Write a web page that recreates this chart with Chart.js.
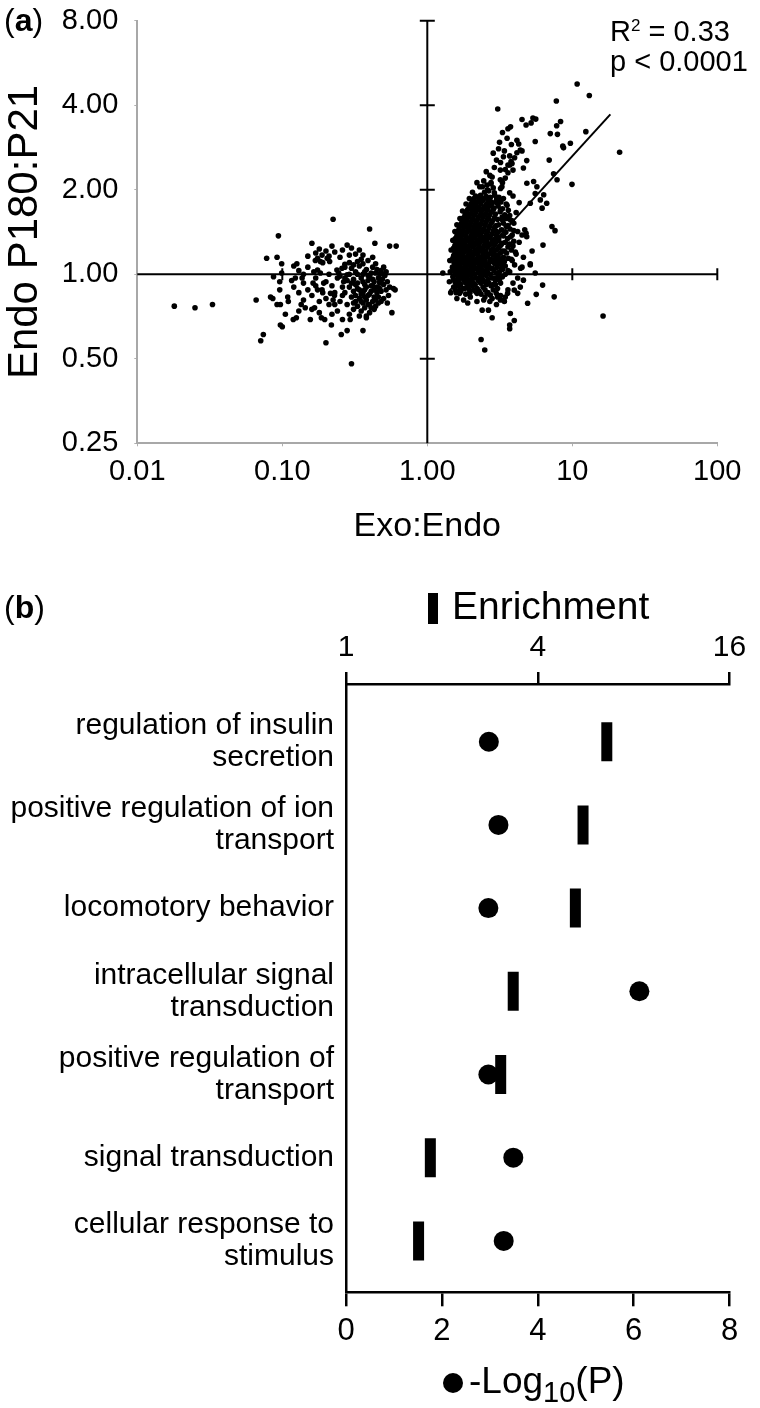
<!DOCTYPE html>
<html><head><meta charset="utf-8">
<script src="https://cdn.jsdelivr.net/npm/chart.js@4.4.1/dist/chart.umd.min.js"></script>
<style>
html,body{margin:0;padding:0;background:#fff;}
body{width:760px;height:1408px;position:relative;overflow:hidden;font-family:'Liberation Sans',Arial,sans-serif;color:#000;}
canvas{position:absolute;left:0;}
.t{position:absolute;white-space:nowrap;line-height:1;}
</style></head><body>
<canvas id="ca" width="760" height="560" style="top:0"></canvas>
<canvas id="cb" width="760" height="848" style="top:560px"></canvas>
<div class="t" style="left:4px;top:4px;font-size:32px">(<b>a</b>)</div>
<div class="t" style="left:610px;top:17px;font-size:29px">R<span style="font-size:17px;position:relative;top:-10px">2</span> = 0.33</div>
<div class="t" style="left:610px;top:47px;font-size:29px">p &lt; 0.0001</div>
<div class="t" style="left:4px;top:591px;font-size:32px">(<b>b</b>)</div>
<div style="position:absolute;left:428px;top:593px;width:10px;height:31px;background:#000"></div>
<div class="t" style="left:452px;top:586px;font-size:39px">Enrichment</div>
<div style="position:absolute;left:443px;top:1373px;width:20px;height:20px;border-radius:50%;background:#000"></div>
<div class="t" style="left:469px;top:1362px;font-size:37px">-Log<span style="font-size:29px;position:relative;top:9px">10</span>(P)</div>
<script>
const FF = "'Liberation Sans', Arial, sans-serif";

// ---------- panel (a) ----------
const xTickVals = [0.01, 0.1, 1, 10, 100];
const xTickLabels = ['0.01', '0.10', '1.00', '10', '100'];
const yTickVals = [0.25, 0.5, 1, 2, 4, 8];
const yTickLabels = ['0.25', '0.50', '1.00', '2.00', '4.00', '8.00'];
const crossXTicks = [0.1, 10, 100];
const crossYTicks = [0.5, 2, 4, 8];

const leftCluster = [
[0.018,0.77],[0.025,0.76],[0.033,0.78],[0.066,0.81],[0.074,0.61],[0.071,0.58],
[0.078,1.14],[0.092,1.15],[0.094,1.37],[0.099,1.09],[0.087,0.98],[0.099,1.01],[0.096,0.94],
[0.083,0.83],[0.086,0.82],[0.096,0.88],[0.092,0.78],[0.097,0.78],[0.109,0.83],[0.105,0.72],
[0.097,0.66],[0.100,0.65],[0.119,0.69],[0.125,0.70],[0.116,0.95],[0.123,0.97],[0.137,0.97],
[0.126,1.09],[0.150,1.16],[0.160,1.29],[0.224,1.57],[0.40,1.45],[0.435,1.29],[0.55,1.26],[0.61,1.26],
[0.135,0.78],[0.144,0.76],[0.156,0.69],[0.167,0.76],[0.186,0.70],[0.196,0.69],[0.200,0.57],
[0.218,0.66],[0.255,0.61],[0.28,0.63],[0.294,0.69],[0.30,0.48],[0.36,0.63],[0.38,0.71],
[0.57,0.73],[0.60,0.88],[0.50,1.00],[0.47,0.94],[0.585,0.89],
[0.169,1.12],[0.175,1.14],[0.183,1.11],[0.188,1.17],[0.204,1.14],[0.212,1.11],[0.165,1.02],
[0.175,1.035],[0.183,1.01],[0.163,0.93],[0.175,0.88],[0.188,0.88],[0.193,0.93],[0.200,0.82],
[0.215,0.855],[0.229,0.84],[0.224,0.81],[0.238,1.035],[0.245,1.01],[0.25,0.985],[0.258,1.05],
[0.27,1.085],[0.28,0.995],[0.265,0.94],
[0.30,1.05],[0.32,1.02],[0.34,1.07],[0.36,1.00],[0.38,1.04],[0.40,0.98],[0.42,1.06],[0.44,1.01],[0.46,0.97],[0.48,1.03],
[0.31,0.96],[0.33,0.93],[0.35,0.97],[0.37,0.92],[0.39,0.95],[0.41,0.91],[0.43,0.94],[0.45,0.90],[0.47,0.93],[0.50,0.92],
[0.29,0.90],[0.31,0.87],[0.33,0.89],[0.35,0.85],[0.37,0.88],[0.39,0.84],[0.41,0.87],[0.43,0.83],[0.45,0.86],[0.52,0.88],
[0.30,0.83],[0.32,0.80],[0.34,0.82],[0.36,0.79],[0.38,0.81],[0.40,0.78],[0.42,0.80],[0.44,0.77],[0.48,0.80],[0.54,0.84],
[0.28,0.78],[0.31,0.75],[0.33,0.77],[0.35,0.74],[0.37,0.76],[0.40,0.73],[0.43,0.75],[0.46,0.79],[0.50,0.82],[0.27,0.86],
[0.26,0.90],[0.27,0.97],[0.29,1.00],[0.31,1.08],[0.33,1.11],[0.36,1.09],[0.39,1.12],[0.41,1.01],[0.44,1.09],[0.47,1.00],
[0.49,0.96],[0.51,0.99],[0.53,0.94],[0.55,0.90],[0.36,0.94],[0.38,0.90],[0.34,0.88],[0.32,0.92],[0.40,0.85],[0.42,0.96],
[0.37,0.83],[0.35,0.80],[0.39,0.78],[0.46,0.83],[0.48,0.87],[0.30,0.93],[0.28,0.95],[0.26,0.84],[0.25,0.80],[0.29,0.72],
[0.34,0.71],[0.38,0.70],[0.33,1.00],[0.37,1.02],[0.45,1.04],[0.50,1.06],[0.52,1.02],[0.35,1.13],[0.29,1.10],[0.27,1.06],
[0.41,0.76],[0.44,0.81],[0.36,0.86],[0.39,0.99],[0.43,0.88],[0.31,0.79],[0.47,0.89],[0.53,0.79],[0.32,0.84],[0.42,0.91],
[0.12,1.07],[0.13,1.03],[0.14,1.00],[0.15,1.06],[0.17,1.19],[0.18,1.23],[0.20,1.21],[0.21,1.16],[0.22,1.26],[0.19,1.10],
[0.23,1.20],[0.25,1.15],[0.26,1.22],[0.28,1.27],[0.30,1.24],[0.32,1.18],[0.34,1.22],[0.29,1.17],[0.36,1.17],[0.42,1.15],
[0.12,0.90],[0.13,0.86],[0.14,0.93],[0.15,0.88],[0.16,0.84],[0.17,0.91],[0.18,0.80],[0.19,0.86],[0.20,0.94],[0.21,0.78],
[0.14,0.81],[0.16,0.75],[0.18,0.73],[0.22,0.72],[0.24,0.74],[0.23,0.86],[0.22,0.91],[0.24,0.97],[0.21,1.00],[0.17,0.97],
[0.26,0.69],[0.23,0.78],[0.13,0.74],[0.11,0.80]
];

const rightBlob = [
[1.58,0.86],[1.70,0.87],[1.84,0.85],[1.97,0.86],[2.15,0.87],[2.35,0.85],[2.62,0.86],
[1.52,0.90],[1.63,0.91],[1.76,0.89],[1.90,0.90],[2.04,0.91],[2.21,0.89],[2.42,0.90],[2.75,0.91],[3.05,0.89],
[1.55,0.94],[1.66,0.93],[1.79,0.95],[1.93,0.94],[2.08,0.93],[2.26,0.95],[2.47,0.94],[2.66,0.93],[2.95,0.95],
[1.50,0.98],[1.61,0.99],[1.73,0.97],[1.86,0.98],[2.00,0.99],[2.16,0.97],[2.33,0.98],[2.55,0.99],[2.80,0.97],[3.30,0.98],
[1.54,1.02],[1.65,1.01],[1.78,1.03],[1.91,1.02],[2.06,1.01],[2.23,1.03],[2.41,1.02],[2.62,1.01],[2.88,1.03],[3.15,1.02],
[1.49,1.06],[1.60,1.07],[1.72,1.05],[1.85,1.06],[2.00,1.07],[2.15,1.05],[2.32,1.06],[2.52,1.07],[2.73,1.05],[3.02,1.06],[3.45,1.07],
[1.53,1.10],[1.64,1.09],[1.76,1.11],[1.89,1.10],[2.04,1.09],[2.20,1.11],[2.38,1.10],[2.58,1.09],[2.80,1.11],[3.10,1.10],
[1.50,1.14],[1.61,1.15],[1.73,1.13],[1.86,1.14],[2.01,1.15],[2.17,1.13],[2.34,1.14],[2.53,1.15],[2.74,1.13],[2.98,1.14],[3.35,1.15],
[1.55,1.19],[1.66,1.18],[1.79,1.20],[1.93,1.19],[2.09,1.18],[2.26,1.20],[2.44,1.19],[2.65,1.18],[2.88,1.20],[3.20,1.19],
[1.52,1.24],[1.63,1.25],[1.76,1.23],[1.90,1.24],[2.05,1.25],[2.22,1.23],[2.40,1.24],[2.60,1.25],[2.85,1.23],[3.10,1.24],[3.60,1.25],
[1.58,1.29],[1.70,1.28],[1.83,1.30],[1.98,1.29],[2.14,1.28],[2.31,1.30],[2.50,1.29],[2.72,1.28],[2.96,1.30],[3.28,1.29],
[1.56,1.34],[1.68,1.35],[1.81,1.33],[1.95,1.34],[2.11,1.35],[2.28,1.33],[2.47,1.34],[2.68,1.35],[2.90,1.33],
[1.62,1.40],[1.74,1.39],[1.88,1.41],[2.03,1.40],[2.19,1.39],[2.37,1.41],[2.57,1.40],[2.80,1.39],[3.08,1.41],
[1.66,1.46],[1.79,1.47],[1.93,1.45],[2.09,1.46],[2.26,1.47],[2.45,1.45],[2.66,1.46],[2.92,1.47],
[1.72,1.52],[1.85,1.51],[2.00,1.53],[2.16,1.52],[2.34,1.51],[2.54,1.53],[2.76,1.52],
[1.78,1.59],[1.92,1.60],[2.07,1.58],[2.24,1.59],[2.43,1.60],[2.64,1.58],[2.90,1.59],
[1.86,1.66],[2.01,1.65],[2.17,1.67],[2.35,1.66],[2.55,1.65],[2.78,1.67],
[1.95,1.74],[2.11,1.75],[2.28,1.73],[2.47,1.74],[2.68,1.75],
[2.05,1.82],[2.22,1.81],[2.40,1.83],[2.62,1.82],
[2.15,1.90],[2.33,1.91],[2.55,1.89]
];

const rightBlobFill = [
[1.56,0.88],[1.68,0.88],[1.81,0.89],[1.95,0.88],[2.10,0.88],[2.28,0.87],[2.50,0.88],[2.85,0.88],
[1.58,0.92],[1.70,0.92],[1.84,0.93],[1.98,0.92],[2.14,0.92],[2.33,0.93],[2.56,0.92],[2.85,0.92],
[1.52,0.96],[1.64,0.96],[1.76,0.97],[1.90,0.96],[2.04,0.96],[2.21,0.97],[2.40,0.96],[2.62,0.96],[2.90,0.97],[3.15,0.96],
[1.57,1.00],[1.69,1.00],[1.82,1.01],[1.96,1.00],[2.12,1.00],[2.29,1.01],[2.48,1.00],[2.72,1.00],[3.00,1.01],
[1.51,1.04],[1.62,1.04],[1.74,1.05],[1.88,1.04],[2.03,1.04],[2.19,1.05],[2.37,1.04],[2.57,1.04],[2.80,1.05],[3.30,1.04],
[1.56,1.08],[1.68,1.08],[1.80,1.09],[1.94,1.08],[2.09,1.08],[2.25,1.09],[2.44,1.08],[2.65,1.08],[2.92,1.09],[3.25,1.08],
[1.58,1.12],[1.70,1.12],[1.82,1.13],[1.96,1.12],[2.12,1.12],[2.29,1.13],[2.48,1.12],[2.70,1.12],[2.95,1.13],[3.20,1.12],
[1.52,1.165],[1.64,1.165],[1.76,1.17],[1.90,1.16],[2.05,1.165],[2.22,1.17],[2.40,1.16],[2.61,1.165],[2.84,1.17],[3.08,1.16],
[1.58,1.215],[1.70,1.215],[1.84,1.22],[1.98,1.21],[2.14,1.215],[2.32,1.22],[2.52,1.21],[2.75,1.215],[3.00,1.22],[3.40,1.21],
[1.55,1.265],[1.67,1.265],[1.80,1.27],[1.94,1.26],[2.10,1.265],[2.27,1.27],[2.46,1.26],[2.66,1.265],[2.90,1.27],[3.15,1.26],
[1.62,1.315],[1.75,1.315],[1.89,1.32],[2.04,1.31],[2.20,1.315],[2.38,1.32],[2.58,1.31],[2.82,1.315],[3.10,1.32],
[1.60,1.37],[1.72,1.37],[1.85,1.375],[2.00,1.365],[2.16,1.37],[2.33,1.375],[2.52,1.365],[2.74,1.37],[3.00,1.375],
[1.64,1.43],[1.77,1.43],[1.91,1.435],[2.06,1.425],[2.22,1.43],[2.41,1.435],[2.62,1.425],[2.86,1.43],
[1.70,1.49],[1.83,1.49],[1.97,1.495],[2.12,1.485],[2.30,1.49],[2.50,1.495],[2.70,1.485],[2.98,1.49],
[1.75,1.555],[1.88,1.555],[2.03,1.56],[2.20,1.55],[2.38,1.555],[2.58,1.56],[2.82,1.55],
[1.82,1.625],[1.96,1.625],[2.12,1.63],[2.30,1.62],[2.50,1.625],[2.70,1.63],
[1.90,1.70],[2.05,1.70],[2.22,1.705],[2.40,1.695],[2.60,1.70],[2.85,1.705],
[2.00,1.78],[2.16,1.78],[2.34,1.785],[2.55,1.775],[2.78,1.78],
[2.10,1.86],[2.27,1.86],[2.47,1.865],[2.70,1.855]
];

const rightBlobEast = [
[2.95,0.92],[3.20,0.93],[3.10,0.99],[3.45,1.00],[3.25,1.05],[3.60,1.03],[3.15,1.13],[3.40,1.11],[3.62,1.14],[3.85,1.12],
[3.05,1.17],[3.28,1.21],[3.52,1.19],[3.80,1.22],[4.05,1.20],[3.22,1.27],[3.45,1.30],[3.70,1.28],[3.95,1.31],
[3.12,1.35],[3.35,1.37],[3.58,1.34],[3.85,1.38],[3.00,1.42],[3.25,1.44],[3.48,1.41],[3.72,1.45],[3.95,1.43],
[3.10,1.50],[3.35,1.52],[3.60,1.49],[3.85,1.55],[3.05,1.57],[3.28,1.60],[3.52,1.58],[3.75,1.56],
[2.95,1.64],[3.18,1.67],[3.42,1.63],[3.62,1.69],[2.88,1.72],[3.08,1.75],[3.30,1.71],[3.50,1.78],
[2.80,1.80],[3.00,1.84],[3.22,1.81],[2.72,1.88],[2.92,1.91],[3.12,1.88],[2.48,1.96],[2.65,1.98],
[2.85,2.03],[2.40,2.05],[2.58,2.08],[2.75,2.12]
];

const rightScatter = [
[3.6,0.88],[3.9,0.93],[4.2,0.97],[3.7,1.02],[4.0,1.08],[4.4,1.05],[3.8,1.13],[4.1,1.18],[4.6,1.15],[3.9,1.26],
[4.3,1.30],[3.75,1.36],[4.2,1.42],[4.5,1.38],[3.5,1.48],[3.95,1.52],[4.7,1.44],[3.3,1.56],[3.7,1.62],[4.1,1.66],
[3.2,1.70],[3.55,1.76],[3.0,1.80],[3.35,1.86],[2.9,1.95],[3.2,2.02],[2.6,2.00],[3.7,1.95],[3.9,1.90],[4.3,1.80],
[3.4,0.80],[3.0,0.78],[2.7,0.80],[2.2,0.80],[1.9,0.79],[2.5,0.83],[3.2,0.84],[1.6,0.82],[1.45,0.86],[1.42,0.94],
[1.44,1.02],[1.43,1.12],[1.46,1.22],[1.50,1.32],[1.55,1.42],[1.60,1.50],[1.68,1.58],[1.75,1.68],[1.85,1.78],[1.95,1.86],
[2.05,1.96],[2.30,2.05],[2.45,2.15],[2.20,2.12],[2.70,2.25],[2.55,2.32],[2.90,2.40],[3.00,2.55],[3.20,2.50],[3.35,2.62],
[2.75,2.10],[3.45,2.20],[3.60,2.30],[3.30,2.12],[2.85,2.70],[3.10,2.80],[3.40,2.75],[3.60,2.45],[3.90,2.35],[4.00,2.60],
[3.15,2.95],[3.55,3.05],[3.80,2.90],[3.30,3.20],[3.60,3.30],[3.75,3.35],
[10.8,4.76],[13.1,4.33],[7.76,4.14],[3.06,3.88],[4.5,3.56],[4.8,3.40],[5.2,3.46],[5.35,3.60],[5.6,3.57],[8.3,3.50],
[7.8,3.38],[7.05,3.17],[7.9,3.15],[12.4,3.22],[21.2,2.72],[8.6,2.86],[8.7,2.82],[9.7,2.93],[5.55,2.97],[4.15,3.00],
[4.27,2.91],[4.5,2.75],[4.15,2.71],[4.38,2.77],[4.85,2.54],[4.6,2.39],[3.7,2.64],[3.78,2.52],[3.7,2.45],[6.93,2.55],
[9.95,2.09],[7.85,2.17],[3.19,2.35],[3.45,2.36],[2.8,2.22],[3.19,2.17],[3.27,2.05],[5.55,1.94],[6.35,1.92],[5.13,1.79],
[6.02,1.84],[6.19,1.72],[7.24,1.48],[7.6,1.43],[6.28,1.27],[5.28,1.21],[5.13,1.09],[4.8,1.40],[4.85,1.36],[6.24,0.915],
[5.64,0.848],[4.92,0.788],[7.5,0.831],[16.3,0.71],[2.35,0.586],[2.49,0.537],[2.39,0.745],[2.64,0.745],[2.8,0.70],[3.74,0.725],
[3.98,0.684],[3.7,0.66],[3.7,0.64],[4.2,0.855],[3.19,0.81],[3.45,0.83],[2.99,0.855],[1.28,1.01],[1.78,0.81],[1.67,0.855],
[3.84,2.48],[4.86,2.11],[5.41,2.14],[5.7,2.05],[7.43,2.28],[6.66,1.79],
[4.5,1.06],[5.13,1.08],[5.55,1.01],[4.6,0.953],[4.38,0.90],[3.98,0.878],[3.58,0.855],[3.36,0.81],[3.05,0.83],[2.8,0.82],
[2.58,0.855],[1.98,0.83],[2.2,0.855],[2.45,0.81],[2.72,0.843]
];

const fitLine = [[1.425, 0.874], [18.3, 3.71]];

const crossPlugin = {
  id: 'cross',
  beforeDatasetsDraw(c) {
    const {ctx} = c; const x = c.scales.x, y = c.scales.y;
    const x1 = x.getPixelForValue(1), y1 = y.getPixelForValue(1);
    ctx.save();
    ctx.strokeStyle = '#000'; ctx.lineWidth = 2;
    ctx.beginPath();
    ctx.moveTo(x1, y.getPixelForValue(8)); ctx.lineTo(x1, y.getPixelForValue(0.25));
    ctx.moveTo(x.getPixelForValue(0.01), y1); ctx.lineTo(x.getPixelForValue(100), y1);
    crossYTicks.forEach(v => { const p = y.getPixelForValue(v); ctx.moveTo(x1 - 7.5, p); ctx.lineTo(x1 + 7.5, p); });
    crossXTicks.forEach(v => { const p = x.getPixelForValue(v); ctx.moveTo(p, y1 - 6); ctx.lineTo(p, y1 + 6); });
    ctx.stroke();
    ctx.restore();
  }
};

const zeroPad = s => { s.paddingTop = 0; s.paddingBottom = 0; s.paddingLeft = 0; s.paddingRight = 0; };

new Chart(document.getElementById('ca'), {
  type: 'scatter',
  data: { datasets: [
    { data: leftCluster.concat(rightBlob, rightBlobFill, rightBlobEast, rightScatter), pointRadius: 2.8, pointHoverRadius: 2.8,
      pointBackgroundColor: '#000', pointBorderWidth: 0 },
    { data: fitLine, showLine: true, borderColor: '#000', borderWidth: 2, pointRadius: 0, fill: false }
  ]},
  options: {
    responsive: false, animation: false, devicePixelRatio: 1,
    layout: { padding: { left: 0, top: 20.7, right: 42.7, bottom: 0 } },
    plugins: { legend: { display: false }, tooltip: { enabled: false } },
    scales: {
      x: {
        type: 'logarithmic', position: 'bottom', min: 0.01, max: 100, bounds: 'data',
        afterBuildTicks: s => { s.ticks = xTickVals.map(v => ({ value: v })); },
        afterFit: s => { s.height = 560 - 443.3; zeroPad(s); },
        ticks: { autoSkip: false, maxRotation: 0, padding: 8, color: '#000', font: { family: FF, size: 29 },
                 callback: (v, i) => xTickLabels[i] },
        grid: { drawOnChartArea: false, drawTicks: true, tickLength: 3, color: '#b0b0b0', lineWidth: 1 },
        border: { display: true, color: '#a8a8a8', width: 2 },
        title: { display: true, text: 'Exo:Endo', color: '#000', font: { family: FF, size: 34, lineHeight: 1 }, padding: { top: 0, bottom: 16 } }
      },
      y: {
        type: 'logarithmic', position: 'left', min: 0.25, max: 8, bounds: 'data',
        afterBuildTicks: s => { s.ticks = yTickVals.map(v => ({ value: v })); },
        afterFit: s => { s.width = 137.3; zeroPad(s); },
        ticks: { autoSkip: false, padding: 16, color: '#000', font: { family: FF, size: 29 },
                 callback: (v, i) => yTickLabels[i] },
        grid: { drawOnChartArea: false, drawTicks: true, tickLength: 3, color: '#b0b0b0', lineWidth: 1 },
        border: { display: true, color: '#a8a8a8', width: 2 },
        title: { display: true, text: 'Endo P180:P21', align: 'center', color: '#000', font: { family: FF, size: 42, lineHeight: 1 }, padding: { top: 4, bottom: 0 } }
      }
    }
  },
  plugins: [crossPlugin]
});

// ---------- panel (b) ----------
const categories = [
  ['regulation of insulin', 'secretion'],
  ['positive regulation of ion', 'transport'],
  ['locomotory behavior'],
  ['intracellular signal', 'transduction'],
  ['positive regulation of', 'transport'],
  ['signal transduction'],
  ['cellular response to', 'stimulus']
];
const enrichment = [6.59, 5.55, 5.25, 3.35, 3.06, 1.84, 1.69];
const negLogP = [2.98, 3.18, 2.97, 6.12, 2.97, 3.49, 3.29];
const enrichTicks = [1, 4, 16];
const pTicks = [0, 2, 4, 6, 8];

new Chart(document.getElementById('cb'), {
  type: 'scatter',
  data: { datasets: [
    { label: 'Enrichment', xAxisID: 'xTop', yAxisID: 'y',
      data: enrichment.map((v, i) => ({ x: v, y: i })),
      pointStyle: 'line', rotation: 90, pointRadius: 19.5, pointHoverRadius: 19.5,
      pointBorderWidth: 11, pointHoverBorderWidth: 11, pointBorderColor: '#000', pointBackgroundColor: '#000' },
    { label: '-Log10(P)', xAxisID: 'xBottom', yAxisID: 'y',
      data: negLogP.map((v, i) => ({ x: v, y: i })),
      pointStyle: 'circle', pointRadius: 10, pointHoverRadius: 10, pointBackgroundColor: '#000', pointBorderWidth: 0 }
  ]},
  options: {
    responsive: false, animation: false, devicePixelRatio: 1,
    layout: { padding: { left: 0, top: 0, right: 22.5, bottom: 0 } },
    plugins: { legend: { display: false }, tooltip: { enabled: false } },
    scales: {
      xTop: {
        type: 'logarithmic', position: 'top', min: 1, max: 16, bounds: 'data',
        afterBuildTicks: s => { s.ticks = enrichTicks.map(v => ({ value: v })); },
        afterFit: s => { s.height = 124; zeroPad(s); },
        ticks: { autoSkip: false, maxRotation: 0, padding: 6, color: '#000', font: { family: FF, size: 30 },
                 callback: (v, i) => String(enrichTicks[i]) },
        grid: { drawOnChartArea: false, drawTicks: true, tickLength: 12, color: '#000', lineWidth: 2.5 },
        border: { display: true, color: '#000', width: 2.5 }
      },
      xBottom: {
        type: 'linear', position: 'bottom', min: 0, max: 8, bounds: 'data',
        afterBuildTicks: s => { s.ticks = pTicks.map(v => ({ value: v })); },
        afterFit: s => { s.height = 848 - 732.3; zeroPad(s); },
        ticks: { autoSkip: false, maxRotation: 0, padding: 7, color: '#000', font: { family: FF, size: 31 },
                 callback: (v, i) => String(pTicks[i]) },
        grid: { drawOnChartArea: false, drawTicks: true, tickLength: 14, color: '#000', lineWidth: 2.5 },
        border: { display: true, color: '#000', width: 2.5 }
      },
      y: {
        type: 'linear', position: 'left', min: -0.6935, max: 6.618, reverse: true, bounds: 'data',
        afterBuildTicks: s => { s.ticks = categories.map((c, i) => ({ value: i })); },
        afterFit: s => { s.width = 346; zeroPad(s); },
        ticks: { autoSkip: false, padding: 12, color: '#000', font: { family: FF, size: 30, lineHeight: 1.07 },
                 callback: (v, i) => categories[i] },
        grid: { drawOnChartArea: false, drawTicks: false },
        border: { display: true, color: '#000', width: 2.5 }
      }
    }
  }
});
</script>
</body></html>
